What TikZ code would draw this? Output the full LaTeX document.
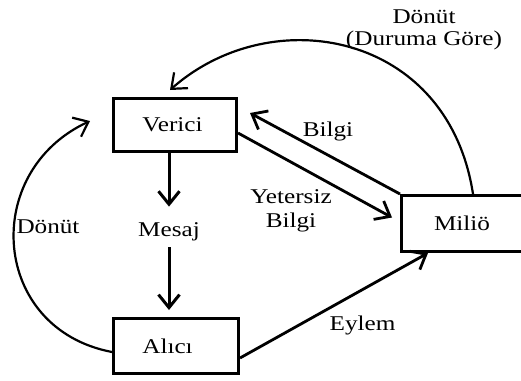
\documentclass[tikz,border=0pt]{standalone}
\usepackage{fontspec}
\setmainfont{Liberation Serif}[FakeStretch=1.2]
\usetikzlibrary{arrows.meta}
\begin{document}
\begin{tikzpicture}[x=1pt,y=-1pt,
  box/.style={draw, line width=3pt, inner sep=0pt, font=\fontsize{21}{24}\selectfont},
  lbl/.style={inner sep=0pt, anchor=base, align=center, font=\fontsize{21}{24}\selectfont},
  arr/.style={line width=2.8pt, -{Straight Barb[length=13pt,width=21pt]}},
  arcarr/.style={line width=2.2pt, -{Straight Barb[length=13pt,width=21pt]}}]
\useasboundingbox (0,0) rectangle (521,380);

% boxes
\node[box, minimum width=123pt, minimum height=53pt] (verici) at (175,125) {Verici\kern5pt};
\node[box, minimum width=125pt, minimum height=55pt] (alici) at (176,346) {Alıcı\kern17pt};
\node[box, minimum width=125pt, minimum height=56pt] (milio) at (464,223.5) {\raisebox{-4pt}{Miliö}\kern4pt};

% labels (base = baseline of the last line)
\node[lbl] (mesaj) at (169,236.7) {Mesaj};
\node[lbl] (donut) at (48,233) {Dönüt};
\node[lbl] (yetersiz) at (291,227) {Yetersiz\\Bilgi};
\node[lbl] (bilgi) at (328,136.7) {Bilgi};
\node[lbl] (eylem) at (362.5,330) {Eylem};
\node[lbl, font=\fontsize{21}{22.5}\selectfont] (durum) at (424,45.5) {Dönüt\\(Duruma Göre)};

% straight connectors
\draw[arr, line width=3pt, shorten >=16pt] (verici.south -| mesaj.north) -- (mesaj.north);
\draw[arr, line width=3pt, shorten <=6pt, shorten >=7pt] (mesaj.south) -- (alici.north -| mesaj.south);
\draw[arr] ([yshift=-8pt]verici.east) -- ([shift={(-8pt,6pt)}]milio.west);
\draw[arr] (milio.north west) -- ([shift={(12pt,12pt)}]verici.east);
\draw[arr] ([yshift=-12pt]alici.east) -- ([xshift=-36pt]milio.south);

% curved feedback connectors
\draw[arcarr] ([yshift=-6pt]alici.west) .. controls (-9,329) and (-20,172) .. ([shift={(-22pt,4pt)}]verici.west);
\draw[arcarr] ([xshift=9pt]milio.north) .. controls (448,32) and (272,0) .. ([shift={(-5pt,7pt)}]verici.north);
\end{tikzpicture}
\end{document}
